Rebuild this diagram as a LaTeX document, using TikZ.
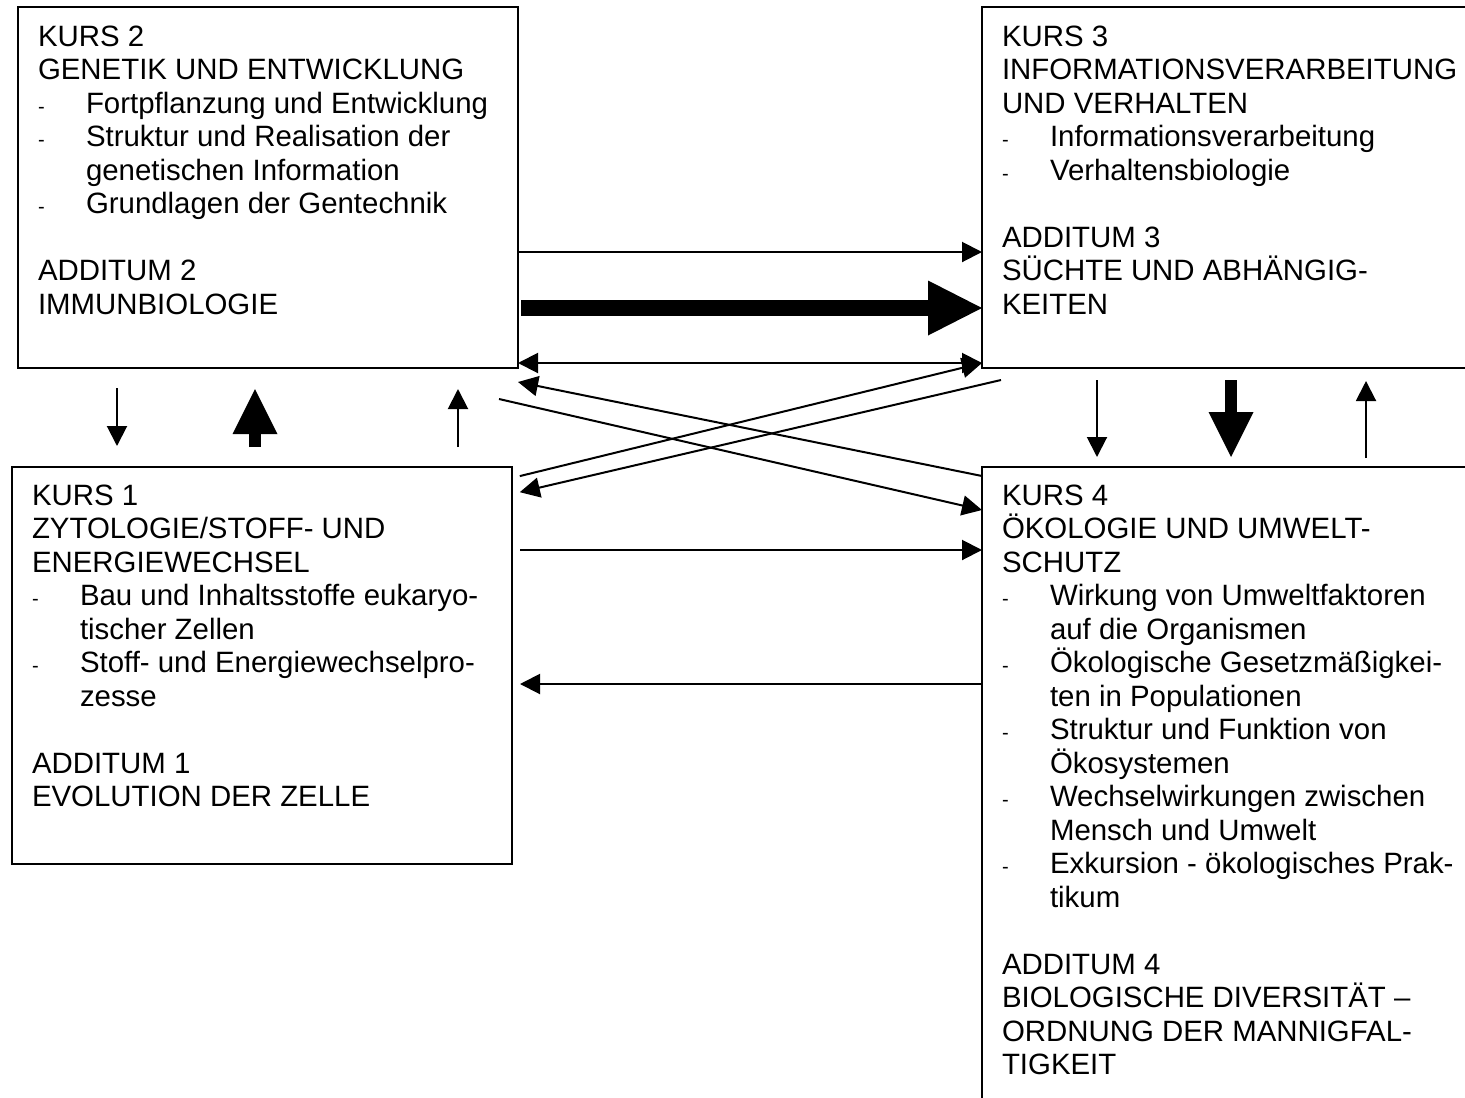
\documentclass[tikz,border=0pt]{standalone}
\usepackage{fontspec}
\setmainfont{Liberation Sans}
\usetikzlibrary{positioning}
\usetikzlibrary{arrows.meta}
\newcommand{\kursFont}{\fontsize{29.4}{33.5}\selectfont\lineskiplimit=-100pt\relax}
\tikzstyle{page} = [x = 1pt, y = -1pt]
\tikzstyle{kursBox} = [draw, line width = 2.5pt, inner sep = 0pt, outer sep = 0pt, anchor = north west]
\tikzstyle{kursText} = [align = left, inner sep = 0pt, outer sep = 0pt, font = \kursFont]
\tikzstyle{thinArrow} = [line width = 2pt, -{Triangle[length = 20pt, width = 20pt]}]
\tikzstyle{twoWayArrow} = [line width = 2pt, {Triangle[length = 20pt, width = 20pt]}-{Triangle[length = 20pt, width = 20pt]}]
\tikzstyle{wideArrow} = [line width = 16pt, -{Triangle[length = 54pt, width = 55pt, line width = 0pt]}]
\tikzstyle{boldArrow} = [line width = 12pt, -{Triangle[length = 45pt, width = 45pt, line width = 0pt]}]
\newcommand{\listDash}{\makebox[48pt][l]{\fontsize{20}{20}\selectfont -}}
\newcommand{\listIndent}{\hspace*{48pt}}
\newcommand{\kursFrame}[5]{\node [kursBox, minimum width = #4pt, minimum height = #5pt] (#1) at (#2, #3) {};}

\begin{document}
\begin{tikzpicture}[page]
  \useasboundingbox (0, 0) rectangle (1465, 1098);
  \clip (0, 0) rectangle (1465, 1098);

  \kursFrame{kurs2}{18}{7}{500}{361}
  \kursFrame{kurs3}{982}{7}{500}{361}
  \kursFrame{kurs1}{12}{467}{500}{397}
  \kursFrame{kurs4}{982}{467}{500}{650}

  \node [kursText, below right = 16pt and 20pt of kurs2.north west] (kurs2Text) {\strut KURS 2\\
    GENETIK UND ENTWICKLUNG\\
    \listDash Fortpflanzung und Entwicklung\\
    \listDash Struktur und Realisation der\\
    \listIndent genetischen Information\\
    \listDash Grundlagen der Gentechnik\\[33.5pt]
    ADDITUM 2\\
    IMMUNBIOLOGIE};
  \node [kursText, below right = 16pt and 20pt of kurs3.north west] (kurs3Text) {\strut KURS 3\\
    INFORMATIONSVERARBEITUNG\\
    UND VERHALTEN\\
    \listDash Informationsverarbeitung\\
    \listDash Verhaltensbiologie\\[33.5pt]
    ADDITUM 3\\
    SÜCHTE UND ABHÄNGIG-\\
    KEITEN};
  \node [kursText, below right = 15pt and 20pt of kurs1.north west] (kurs1Text) {\strut KURS 1\\
    ZYTOLOGIE/STOFF- UND\\
    ENERGIEWECHSEL\\
    \listDash Bau und Inhaltsstoffe eukaryo-\\
    \listIndent tischer Zellen\\
    \listDash Stoff- und Energiewechselpro-\\
    \listIndent zesse\\[33.5pt]
    ADDITUM 1\\
    EVOLUTION DER ZELLE};
  \node [kursText, below right = 15pt and 20pt of kurs4.north west] (kurs4Text) {\strut KURS 4\\
    ÖKOLOGIE UND UMWELT-\\
    SCHUTZ\\
    \listDash Wirkung von Umweltfaktoren\\
    \listIndent auf die Organismen\\
    \listDash Ökologische Gesetzmäßigkei-\\
    \listIndent ten in Populationen\\
    \listDash Struktur und Funktion von\\
    \listIndent Ökosystemen\\
    \listDash Wechselwirkungen zwischen\\
    \listIndent Mensch und Umwelt\\
    \listDash Exkursion - ökologisches Prak-\\
    \listIndent tikum\\[33.5pt]
    ADDITUM 4\\
    BIOLOGISCHE DIVERSITÄT –\\
    ORDNUNG DER MANNIGFAL-\\
    TIGKEIT};

  % kurs 2 und kurs 3
  \draw [thinArrow] (kurs2.east |- 0, 252) -- (kurs3.west |- 0, 252);
  \draw [wideArrow, shorten <= 3pt] (kurs2.east |- 0, 308) -- (kurs3.west |- 0, 308);
  \draw [twoWayArrow] (kurs2.east |- 0, 363) -- (kurs3.west |- 0, 363);

  % kreuzende Pfeile
  \coordinate (kurs2Out) at (499, 399);
  \coordinate (kurs3Out) at (1001, 380);
  \draw [thinArrow] (kurs4.west |- 0, 476) -- (kurs2.east |- 0, 382);
  \draw [thinArrow] (kurs2Out) -- (kurs4.west |- 0, 510);
  \draw [thinArrow, shorten <= 8pt] (kurs1.east |- 0, 478) -- (kurs3.west |- 0, 363);
  \draw [thinArrow, shorten >= 8pt] (kurs3Out) -- (kurs1.east |- 0, 494);

  % kurs 1 und kurs 4
  \draw [thinArrow, shorten <= 8pt] (kurs1.east |- 0, 550) -- (kurs4.west |- 0, 550);
  \draw [thinArrow, shorten >= 8pt] (kurs4.west |- 0, 684) -- (kurs1.east |- 0, 684);

  % senkrechte Pfeile
  \draw [thinArrow, shorten <= 20pt, shorten >= 21pt] (kurs2.south -| 117, 0) -- (kurs1.north -| 117, 0);
  \draw [boldArrow, shorten <= 20pt, shorten >= 21pt] (kurs1.north -| 255, 0) -- (kurs2.south -| 255, 0);
  \draw [thinArrow, shorten <= 20pt, shorten >= 21pt] (kurs1.north -| 458, 0) -- (kurs2.south -| 458, 0);
  \draw [thinArrow, shorten <= 12pt, shorten >= 10pt] (kurs3.south -| 1097, 0) -- (kurs4.north -| 1097, 0);
  \draw [boldArrow, shorten <= 12pt, shorten >= 10pt] (kurs3.south -| 1231, 0) -- (kurs4.north -| 1231, 0);
  \draw [thinArrow, shorten <= 9pt, shorten >= 13pt] (kurs4.north -| 1366, 0) -- (kurs3.south -| 1366, 0);
\end{tikzpicture}
\end{document}
